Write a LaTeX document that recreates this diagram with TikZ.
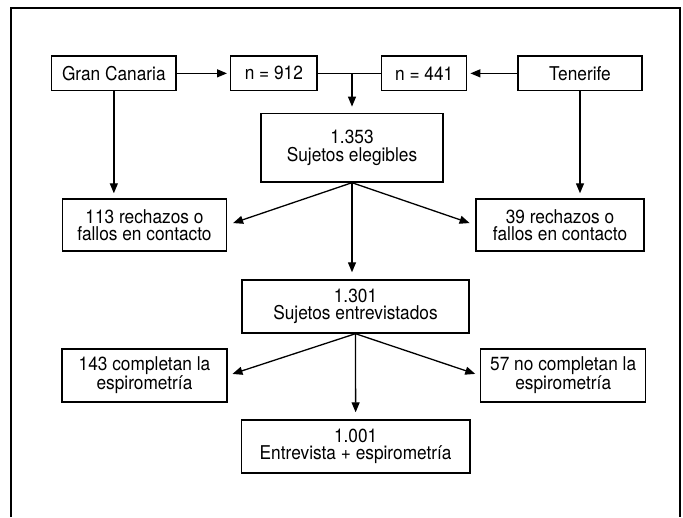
\documentclass[tikz,border=0pt]{standalone}
\usepackage{fontspec}
\setmainfont{TeX Gyre Heros}[FakeStretch=0.91]
\usetikzlibrary{arrows.meta}
\begin{document}
\begin{tikzpicture}[x=1pt,y=-1pt,
  box/.style={draw,line width=1.4pt,inner sep=0pt,align=center,
    font=\fontsize{19}{17.5}\selectfont},
  arr/.style={line width=1.3pt,-{Triangle[length=10pt,width=8pt]}},
  ln/.style={line width=1.3pt}]
\useasboundingbox (0,0) rectangle (683,517);
\draw[line width=1.3pt] (11,517) -- (11,8) -- (680,8) -- (680,517);
% top row
\node[box,minimum width=124.3pt,minimum height=34.7pt] (gc) at (113.85,73.35) {Gran Canaria};
\node[box,minimum width=86.3pt,minimum height=34.7pt] (n912) at (273.85,73.35) {n = 912};
\node[box,minimum width=85pt,minimum height=34.7pt] (n441) at (424.2,73.35) {n = 441};
\node[box,minimum width=124pt,minimum height=34.7pt] (ten) at (580,73.35) {Tenerife};
% second
\node[box,minimum width=182pt,minimum height=68.7pt] (eleg) at (352,147.65) {1.353\\Sujetos elegibles};
\node[box,minimum width=164.4pt,minimum height=52pt] (r113) at (144.5,225) {113 rechazos o\\fallos en contacto};
\node[box,minimum width=168pt,minimum height=52pt] (r39) at (560,225) {39 rechazos o\\fallos en contacto};
\node[box,minimum width=227pt,minimum height=53pt] (entr) at (355.5,306.5) {1.301\\Sujetos entrevistados};
\node[box,minimum width=165pt,minimum height=53pt] (c143) at (144.5,375.5) {143 completan la\\espirometría};
\node[box,minimum width=165pt,minimum height=53pt] (c57) at (563.2,375.5) {57 no completan la\\espirometría};
\node[box,minimum width=228.7pt,minimum height=53pt] (fin) at (355.65,446.5) {1.001\\Entrevista + espirometría};
% connectors
\draw[arr,shorten >=3pt] (gc.east) -- (n912.west);
\draw[arr,shorten >=3pt] (ten.west) -- (n441.east);
\draw[ln] (n912.east) -- (n441.west);
\draw[arr,shorten >=6pt] (eleg.north |- n912.east) -- (eleg.north);
\draw[arr,shorten >=5pt] (gc.south) -- (gc.south |- r113.north);
\draw[arr,shorten >=5pt] (ten.south) -- (ten.south |- r39.north);
\draw[arr,shorten >=6pt] (eleg.south) -- (r113.east);
\draw[arr,shorten >=6pt] (eleg.south) -- (r39.west);
\draw[arr,shorten >=7pt] (eleg.south) -- (eleg.south |- entr.north);
\draw[arr,shorten >=5pt] (entr.south) -- (c143.east);
\draw[arr,shorten >=5pt] (entr.south) -- (c57.west);
\draw[arr,shorten >=7pt] (entr.south) -- (fin.north);
\end{tikzpicture}
\end{document}
